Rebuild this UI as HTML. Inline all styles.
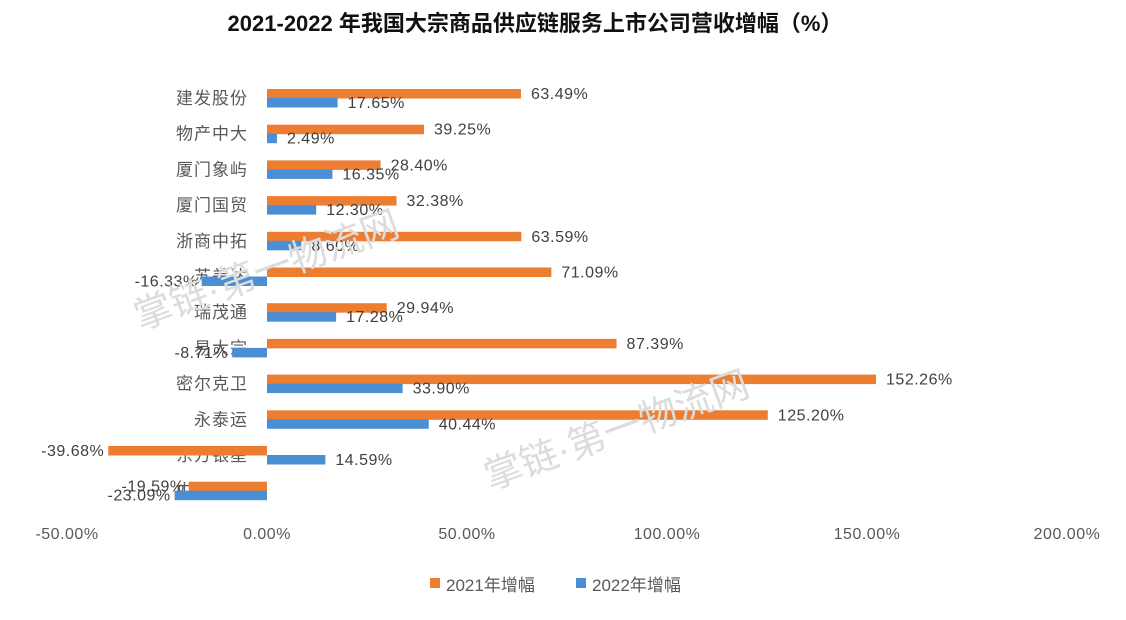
<!DOCTYPE html>
<html><head><meta charset="utf-8"><style>
body{margin:0;background:#fff}
svg{display:block;font-family:"Liberation Sans","Noto Sans CJK SC",sans-serif}
</style></head><body>
<svg width="1126" height="620">
<text x="535" y="31" text-anchor="middle" font-size="22" font-weight="bold" fill="#111">2021-2022 年我国大宗商品供应链服务上市公司营收增幅（%）</text>
<g id="axis"></g><g id="bars"></g>
<g fill="#dcdcdc" font-size="38">
<text x="140" y="330" transform="rotate(-20 140 330)">掌链·第一物流网</text>
<text x="490" y="490" transform="rotate(-20 490 490)">掌链·第一物流网</text>
</g>
<g>
<rect x="430" y="578" width="10" height="10" fill="#ed7d31"/>
<text x="446" y="591" font-size="17" fill="#595959">2021年增幅</text>
<rect x="576" y="578" width="10" height="10" fill="#4a8fd6"/>
<text x="592" y="591" font-size="17" fill="#595959">2022年增幅</text>
</g>
</svg>
<script>
const categories=["建发股份","物产中大","厦门象屿","厦门国贸","浙商中拓","苏美达","瑞茂通","易大宗","密尔克卫","永泰运","东方银星","中储股份"];
const values2021=[63.49,39.25,28.40,32.38,63.59,71.09,29.94,87.39,152.26,125.20,-39.68,-19.59];
const values2022=[17.65,2.49,16.35,12.30,8.60,-16.33,17.28,-8.71,33.90,40.44,14.59,-23.09];
const ticks=[-50,0,50,100,150,200];
const NS="http://www.w3.org/2000/svg";
const x=v=>267+v*4;
const y=i=>89+i*35.7;
const ax=document.getElementById('axis'),bg=document.getElementById('bars');
function mk(tag,attrs,parent,txt){const e=document.createElementNS(NS,tag);for(const k in attrs)e.setAttribute(k,attrs[k]);if(txt!=null)e.textContent=txt;parent.appendChild(e);return e;}
ticks.forEach(t=>{const e=mk('text',{x:x(t),y:539,'text-anchor':'middle','font-size':16,fill:'#595959','letter-spacing':'0.5'},ax,t.toFixed(2)+'%');

});
categories.forEach((c,i)=>{const e=mk('text',{x:248,y:y(i)+15,'text-anchor':'end','font-size':17,fill:'#595959','letter-spacing':'1'},ax,c);

});
function bar(v,i,off,col,name){
 const b=mk('rect',{x:Math.min(x(0),x(v)),y:y(i)+off,width:Math.abs(x(v)-x(0)),height:9.5,fill:col},bg);
 
 
 const lx=v>=0?x(v)+10:x(v)-4;
 const t=mk('text',{x:lx,y:y(i)+off+10,'text-anchor':v>=0?'start':'end','font-size':16,fill:'#404040','letter-spacing':'0.5'},bg,v.toFixed(2)+'%');
 
 
}
categories.forEach((c,i)=>{bar(values2021[i],i,0,'#ed7d31','bar-2021');bar(values2022[i],i,9,'#4a8fd6','bar-2022');});
</script>
</body></html>
